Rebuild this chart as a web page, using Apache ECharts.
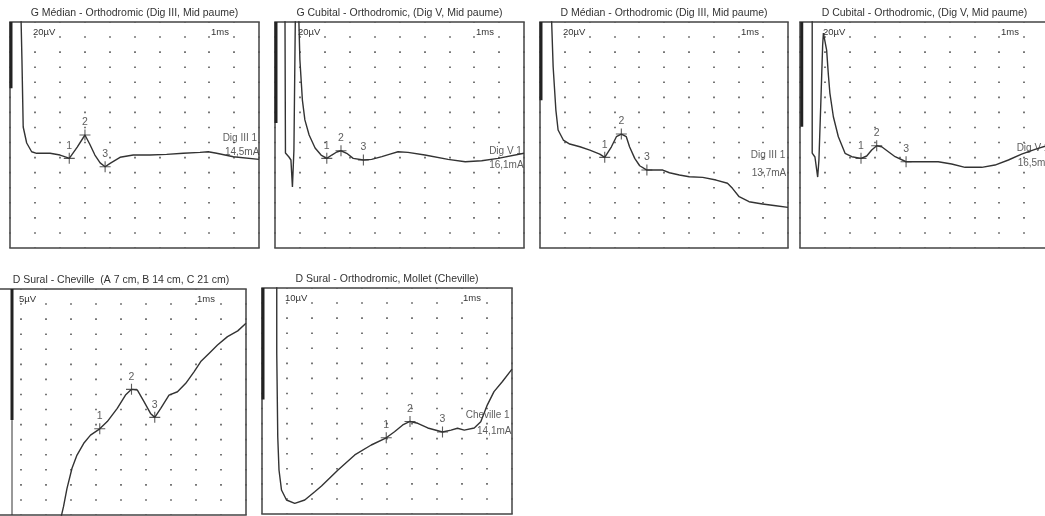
<!DOCTYPE html>
<html>
<head>
<meta charset="utf-8">
<script src="https://cdn.jsdelivr.net/npm/echarts@6/dist/echarts.min.js"></script>
<style>
  html, body { margin: 0; padding: 0; background: #fff; overflow: hidden; }
  /* le panneau en bas à gauche commence hors cadre : on décale le conteneur */
  #chart { width: 1065px; height: 516px; margin-left: -10px; }
</style>
</head>
<body>
<div id="chart"></div>
<script>
// titres des tracés (4 en haut, 2 en bas)
var titles = [
  'G Médian - Orthodromic (Dig III, Mid paume)',
  'G Cubital - Orthodromic, (Dig V, Mid paume)',
  'D Médian - Orthodromic (Dig III, Mid paume)',
  'D Cubital - Orthodromic, (Dig V, Mid paume)',
  'D Sural - Cheville  (A 7 cm, B 14 cm, C 21 cm)',
  'D Sural - Orthodromic, Mollet (Cheville)'
];
var gainLabels = ['20µV', '20µV', '20µV', '20µV', '5µV', '10µV'];
var gains = [20, 20, 20, 20, 5, 10]; // µV par division
var timeLabel = '1ms';
var sites = ['Dig III 1', 'Dig V 1', 'Dig III 1', 'Dig V 1', null, 'Cheville 1'];
var intensities = ['14,5mA', '16,1mA', '13,7mA', '16,5mA', null, '14,1mA'];
var markNames = ['1', '2', '3'];

// tracés [ms, µV]
var trace1 = [[0.44, 310], [0.48, 249.5], [0.51, 196], [0.53, 160.6], [0.67, 139.4], [0.87, 127.8], [1.07, 125.7], [1.61, 125.7], [2.01, 123.4], [2.28, 120.4], [2.38, 119], [2.7, 134], [3.01, 150], [3.2, 138], [3.41, 123.4], [3.62, 113], [3.82, 107.9], [4.02, 112.4], [4.42, 120.4], [4.95, 123.4], [5.62, 123.4], [6.29, 124.3], [6.96, 125.7], [7.63, 127], [7.96, 127.8], [8.3, 125.7], [8.97, 121.2], [10, 117.7]];
var trace2 = [[0.40, 316], [0.42, 126], [0.56, 120.8], [0.64, 116.8], [0.70, 81], [0.76, 130], [0.82, 316], [0.92, 316], [0.96, 300], [1.0, 249.5], [1.10, 196.4], [1.20, 170], [1.37, 150], [1.61, 132.7], [1.85, 123.4], [2.08, 119], [2.28, 123.4], [2.48, 127.4], [2.65, 129.1], [2.88, 125.7], [3.14, 119], [3.55, 116.8], [3.88, 117.7], [4.29, 121.2], [4.62, 124.7], [4.94, 127.8], [5.34, 127], [6.02, 123.4], [6.95, 117.7], [7.64, 114.5], [8.30, 115.9], [8.96, 119], [10, 125.7]];
var trace3 = [[0.45, 310], [0.47, 300], [0.53, 240.6], [0.64, 183.1], [0.73, 156.6], [0.94, 143.3], [1.20, 138], [1.61, 134.4], [2.01, 130], [2.41, 124.7], [2.61, 120.3], [2.88, 134.4], [3.08, 147.7], [3.28, 151.3], [3.48, 147.7], [3.61, 134.4], [3.82, 119], [4.02, 109.2], [4.31, 103.5], [4.62, 103.5], [4.95, 103.5], [5.22, 99.9], [5.62, 96.9], [6.02, 94.6], [6.56, 93.8], [7.10, 90.2], [7.56, 85.9], [7.76, 79.2], [8.03, 68.1], [8.43, 61.4], [8.97, 58.4], [9.51, 56.1], [10, 54]];
var trace4 = [[0.49, 308], [0.49, 126], [0.60, 120.8], [0.71, 94.2], [0.76, 116.8], [0.84, 196.4], [0.91, 269.4], [0.94, 285.3], [1.00, 282.7], [1.07, 262.7], [1.14, 229.6], [1.20, 205.7], [1.34, 174.2], [1.54, 147.7], [1.81, 125.7], [2.08, 121.2], [2.45, 119], [2.68, 122.1], [2.88, 130], [3.08, 135.8], [3.28, 134.4], [3.55, 127.8], [3.82, 121.2], [4.26, 114.5], [4.89, 114.5], [5.55, 114.5], [6.09, 111.5], [6.63, 107.1], [7.30, 107.1], [7.83, 110.1], [8.37, 116.8], [8.90, 124.7], [9.44, 131], [10, 136.7]];
var trace5 = [[2.53, -3.3], [2.70, 2.75], [2.84, 8.86], [3.04, 15.5], [3.24, 19.9], [3.51, 23.8], [3.78, 26.5], [4.15, 28.6], [4.45, 31], [4.85, 35.4], [5.18, 39.8], [5.42, 41.7], [5.65, 41.5], [5.92, 37.6], [6.18, 33.7], [6.35, 32.4], [6.59, 35.4], [6.92, 39.8], [7.26, 40.9], [7.59, 43.7], [7.92, 47.5], [8.19, 50.9], [8.53, 53.7], [8.86, 56.4], [9.26, 59.2], [9.67, 61.1], [10, 63.6]];
var trace6 = [[0.59, 160], [0.59, 106.8], [0.63, 51.3], [0.68, 29.2], [0.78, 15.9], [0.98, 9.3], [1.31, 7.1], [1.71, 9.3], [2.11, 14.8], [2.38, 18.6], [3.04, 29.2], [3.71, 39.2], [4.37, 45.8], [4.97, 50.6], [5.30, 54.6], [5.63, 59.1], [5.92, 61.4], [6.23, 60.2], [6.63, 57.1], [7.22, 54.4], [7.56, 55.7], [7.82, 56.9], [8.09, 55.7], [8.49, 57.1], [8.75, 61.3], [9.01, 72.3], [9.28, 81.2], [9.61, 87.8], [10, 96.2]];

// curseurs 1, 2, 3
var marks1 = [[2.38, 119], [3.01, 150], [3.82, 107.9]];
var marks2 = [[2.08, 119], [2.65, 129.1], [3.55, 116.8]];
var marks3 = [[2.61, 120.3], [3.28, 151.3], [4.31, 103.5]];
var marks4 = [[2.45, 119], [3.08, 135.8], [4.26, 114.5]];
var marks5 = [[4.15, 28.6], [5.42, 41.7], [6.35, 32.4]];
var marks6 = [[4.97, 50.6], [5.92, 61.4], [7.22, 54.4]];

// barres de calibration
var cal1 = [[0.04, 300], [0.04, 212]];
var cal2 = [[0.04, 300], [0.04, 166]];
var cal3 = [[0.04, 300], [0.04, 196]];
var cal4 = [[0.07, 300], [0.07, 161]];
var cal5 = [[0.64, 75], [0.64, 31.5]];
var cal6 = [[0.04, 150], [0.04, 76]];
var tail5 = [[0.64, 31.5], [0.64, 0]];

var traces = [trace1, trace2, trace3, trace4, trace5, trace6];
var marks = [marks1, marks2, marks3, marks4, marks5, marks6];
var cals = [cal1, cal2, cal3, cal4, cal5, cal6];

// position des libellés site / intensité (ms, µV)
var siteAt = [[8.54, 146], [8.6, 127.8], [8.5, 122.5], [8.7, 132.3], null, [8.15, 65.7]];
var intensityAt = [[8.63, 127.4], [8.6, 110], [8.54, 99], [8.74, 112.4], null, [8.6, 54.6]];

// mise en page (coordonnées écran ; le conteneur est décalé de 10 px)
var shift = 10;
var panels = [
  { left: 10, top: 22, width: 249, height: 226 },
  { left: 275, top: 22, width: 249, height: 226 },
  { left: 540, top: 22, width: 248, height: 226 },
  { left: 800, top: 22, width: 249, height: 226 },
  { left: -4, top: 289, width: 250, height: 226 },
  { left: 262, top: 288, width: 250, height: 226 }
];
var font = 'Liberation Sans, Arial, sans-serif';
var ink = '#333';

var chart = echarts.init(document.getElementById('chart'));

var grid = [], xAxis = [], yAxis = [], series = [], graphic = [];

panels.forEach(function (p, i) {
  var rowStep = p.height / 15;
  var left = p.left + shift;
  grid.push({
    left: left, top: p.top, width: p.width, height: p.height,
    show: true, borderColor: '#444', borderWidth: 1.5, backgroundColor: '#fff'
  });
  xAxis.push({
    gridIndex: i, type: 'value', min: 0, max: 10, interval: 1,
    axisLine: { show: false }, axisTick: { show: false }, axisLabel: { show: false },
    splitLine: {
      show: true,
      lineStyle: { color: '#555', width: 1.6, type: [1.6, rowStep - 1.6], dashOffset: 0.8 }
    }
  });
  yAxis.push({
    gridIndex: i, type: 'value', min: 0, max: 15 * gains[i], interval: gains[i],
    axisLine: { show: false }, axisTick: { show: false }, axisLabel: { show: false },
    splitLine: { show: false }
  });

  series.push({
    type: 'line', xAxisIndex: i, yAxisIndex: i, data: traces[i],
    symbol: 'none', silent: true, clip: true,
    lineStyle: { color: ink, width: 1.4 }
  });
  series.push({
    type: 'line', xAxisIndex: i, yAxisIndex: i, data: cals[i],
    symbol: 'none', silent: true,
    lineStyle: { color: '#222', width: 3 }
  });
  series.push({
    type: 'scatter', xAxisIndex: i, yAxisIndex: i, data: marks[i],
    symbol: 'path://M0,6L12,6M6,0L6,12', symbolSize: 11, silent: true,
    itemStyle: { color: 'rgba(0,0,0,0)', borderColor: ink, borderWidth: 1.1 },
    label: {
      show: true, position: 'top', distance: 1,
      formatter: function (d) { return markNames[d.dataIndex]; },
      color: ink, fontSize: 10.5, fontFamily: font
    }
  });
  if (sites[i]) {
    series.push({
      type: 'scatter', xAxisIndex: i, yAxisIndex: i, symbolSize: 0, silent: true,
      data: [siteAt[i].concat([sites[i]]), intensityAt[i].concat([intensities[i]])],
      label: {
        show: true, position: [0, 0], align: 'left', verticalAlign: 'middle',
        formatter: function (d) { return d.value[2]; },
        color: ink, fontSize: 10, fontFamily: font
      }
    });
  }

  graphic.push({
    type: 'text', x: left + p.width / 2, y: p.top - 8.5,
    style: { text: titles[i], fill: ink, font: '10.5px ' + font, align: 'center', verticalAlign: 'middle' }
  });
  graphic.push({
    type: 'text', x: left + 23, y: p.top + 10,
    style: { text: gainLabels[i], fill: ink, font: '9.5px ' + font, align: 'left', verticalAlign: 'middle' }
  });
  graphic.push({
    type: 'text', x: left + 201, y: p.top + 10,
    style: { text: timeLabel, fill: ink, font: '9.5px ' + font, align: 'left', verticalAlign: 'middle' }
  });
});

series.push({
  type: 'line', xAxisIndex: 4, yAxisIndex: 4, data: tail5,
  symbol: 'none', silent: true,
  lineStyle: { color: ink, width: 1 }
});

var option = {
  animation: false,
  backgroundColor: '#fff',
  grid: grid,
  xAxis: xAxis,
  yAxis: yAxis,
  series: series,
  graphic: graphic
};

chart.setOption(option);
</script>
</body>
</html>
